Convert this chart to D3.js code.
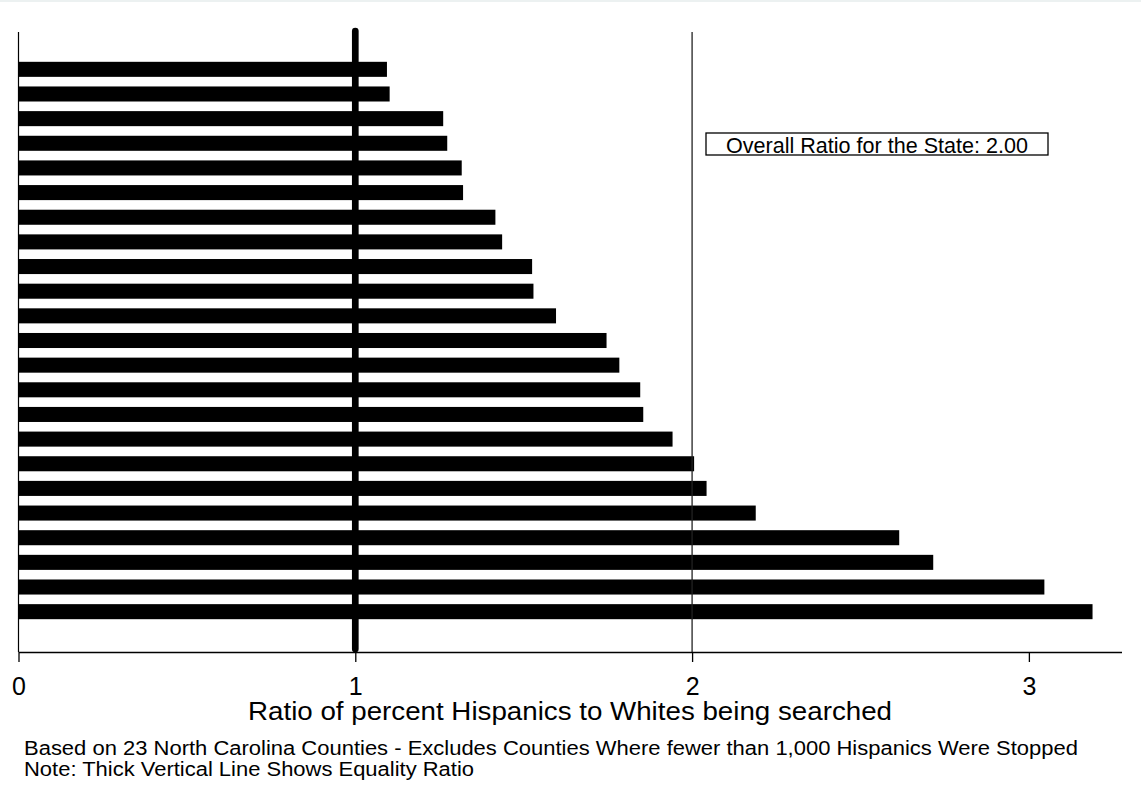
<!DOCTYPE html>
<html>
<head>
<meta charset="utf-8">
<script src="https://cdn.jsdelivr.net/npm/d3@7/dist/d3.min.js"></script>
<style>
  html, body { margin: 0; padding: 0; background: #fff; }
  svg { display: block; }
  text { font-family: "Liberation Sans", Arial, sans-serif; fill: #000; }
</style>
</head>
<body>
<svg id="chart" width="1141" height="812"></svg>
<script>
// County rank (sorted by ratio, lowest first)
const counties = d3.range(1, 24);
// Ratio of percent Hispanics searched to percent Whites searched
const ratios = [1.094, 1.102, 1.261, 1.273, 1.316, 1.320, 1.416, 1.436, 1.525, 1.529,
                1.596, 1.746, 1.784, 1.846, 1.855, 1.942, 2.006, 2.043, 2.189, 2.615,
                2.716, 3.046, 3.189];
const xTicks = [0, 1, 2, 3];
const equalityRatio = 1;
const stateRatio = 2.00;
const xTitle = "Ratio of percent Hispanics to Whites being searched";
const notes = [
  "Based on 23 North Carolina Counties - Excludes Counties Where fewer than 1,000 Hispanics Were Stopped",
  "Note: Thick Vertical Line Shows Equality Ratio"
];

const svg = d3.select("#chart");

const plotTop = 32, plotBottom = 652;
const x = d3.scaleLinear().domain([0, 3.275]).range([18.5, 1121.5]);
const y = d3.scaleBand().domain(counties).range([31, 650])
  .paddingInner(0.39).paddingOuter(1.25);

// faint frame line at the very top
svg.append("line").attr("x1", 0).attr("x2", 1141).attr("y1", 1).attr("y2", 1)
  .attr("stroke", "#e6eced").attr("stroke-width", 1.5);

// bars
svg.append("g").selectAll("rect")
  .data(counties.map((c, i) => ({ c, v: ratios[i] })))
  .join("rect")
  .attr("x", x(0))
  .attr("y", d => y(d.c))
  .attr("width", d => x(d.v) - x(0))
  .attr("height", y.bandwidth())
  .attr("fill", "#000");

// left axis line
svg.append("line")
  .attr("x1", x(0)).attr("x2", x(0))
  .attr("y1", plotTop).attr("y2", plotBottom)
  .attr("stroke", "#000").attr("stroke-width", 1.2);

// overall state ratio reference line
svg.append("line")
  .attr("x1", x(stateRatio)).attr("x2", x(stateRatio))
  .attr("y1", plotTop).attr("y2", plotBottom)
  .attr("stroke", "#222").attr("stroke-width", 1.3);

// equality line
svg.append("line")
  .attr("x1", x(equalityRatio)).attr("x2", x(equalityRatio))
  .attr("y1", plotTop - 1).attr("y2", plotBottom - 3)
  .attr("stroke", "#000").attr("stroke-width", 6.7)
  .attr("stroke-linecap", "round");

// x axis
const xAxis = d3.axisBottom(x).tickValues(xTicks).tickFormat(d3.format("d"))
  .tickSize(10).tickSizeOuter(0).tickPadding(15);
const gx = svg.append("g").attr("transform", `translate(0,${plotBottom})`).call(xAxis);
gx.select(".domain").attr("stroke", "#000").attr("stroke-width", 1.3);
gx.selectAll(".tick line").attr("stroke", "#000").attr("stroke-width", 1.3);
gx.selectAll(".tick text")
  .attr("font-family", "Liberation Sans, Arial, sans-serif")
  .attr("font-size", 25).attr("fill", "#000");

// axis title
svg.append("text")
  .attr("x", (x.range()[0] + x.range()[1]) / 2).attr("y", 720)
  .attr("text-anchor", "middle").attr("font-size", 25)
  .attr("textLength", 644).attr("lengthAdjust", "spacingAndGlyphs")
  .text(xTitle);

// footnotes
svg.selectAll("text.note").data(notes).join("text")
  .attr("class", "note")
  .attr("x", 24).attr("y", (d, i) => 755 + i * 21)
  .attr("font-size", 19.5)
  .attr("textLength", (d, i) => i === 0 ? 1054 : 450)
  .attr("lengthAdjust", "spacingAndGlyphs")
  .text(d => d);

// annotation box
const box = svg.append("g");
box.append("rect")
  .attr("x", 706).attr("y", 133).attr("width", 342).attr("height", 22)
  .attr("fill", "#fff").attr("stroke", "#000").attr("stroke-width", 1.3);
box.append("text")
  .attr("x", 877).attr("y", 152.5).attr("text-anchor", "middle")
  .attr("font-size", 22).attr("textLength", 302).attr("lengthAdjust", "spacingAndGlyphs")
  .text(`Overall Ratio for the State: ${stateRatio.toFixed(2)}`);
</script>
</body>
</html>
